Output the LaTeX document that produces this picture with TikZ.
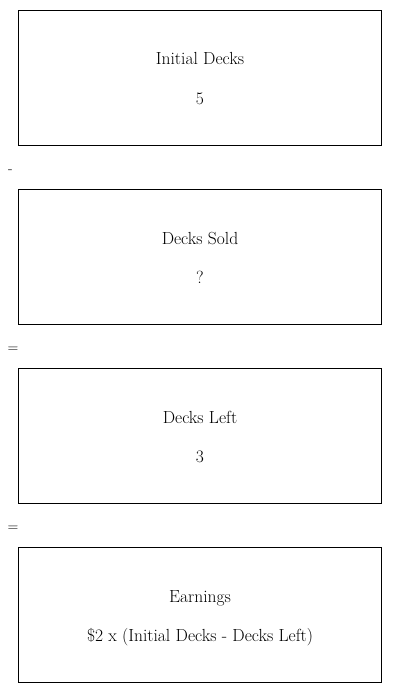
\documentclass[tikz,border=0pt]{standalone}
\begin{document}
\begin{tikzpicture}[x=1pt,y=-1pt,
  card/.style={draw,line width=0.9pt,minimum width=363pt,minimum height=135pt,inner sep=0pt},
  txt/.style={font=\fontsize{17.5}{20}\selectfont,inner sep=0pt,anchor=base},
  opsym/.style={font=\fontsize{15}{17}\selectfont,inner sep=0pt}]
\useasboundingbox (0,0) rectangle (400,693);
\node[card] (b1) at (199.5,77.5) {};
\node[card] (b2) at (199.5,256.5) {};
\node[card] (b3) at (199.5,435.5) {};
\node[card] (b4) at (199.5,614.5) {};
\node[txt] (t1) at (200,65) {Initial Decks};
\node[txt] (v1) at (200,104) {5};
\node[txt] (t2) at (200,244) {Decks Sold};
\node[txt] (v2) at (200,283) {?};
\node[txt] (t3) at (200,423) {Decks Left};
\node[txt] (v3) at (200,462) {3};
\node[txt] (t4) at (200,602) {Earnings};
\node[txt] (v4) at (200,641) {\$2 x (Initial Decks - Decks Left)};
\node[opsym] (o1) at (10.5,172) {-};
\node[opsym] (o2) at (13,350) {=};
\node[opsym] (o3) at (13,529) {=};
\end{tikzpicture}
\end{document}
